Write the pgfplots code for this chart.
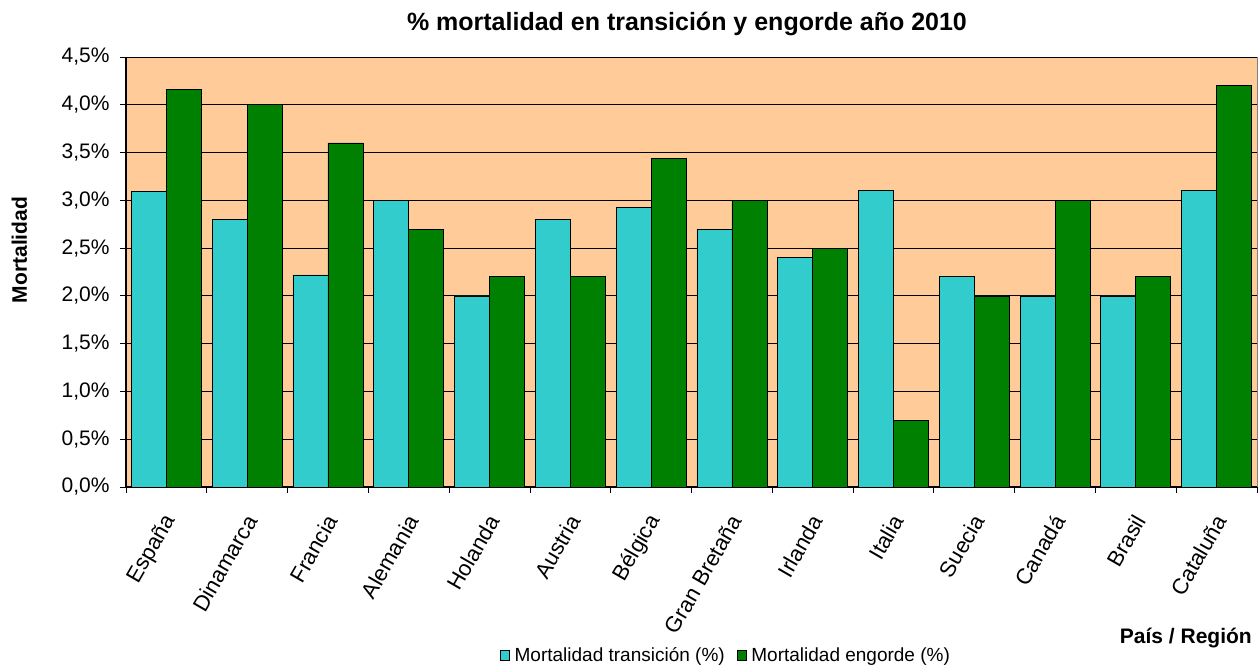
\documentclass[border=0pt]{standalone}
\usepackage{fontspec}
\setmainfont{Liberation Sans}
\usepackage{pgfplots}
\pgfplotsset{compat=1.18}
\definecolor{peach}{HTML}{FFCC99}
\definecolor{cyanbar}{HTML}{33CCCC}
\definecolor{greenbar}{HTML}{008000}
\newcommand{\fs}{\fontsize{21}{25}\selectfont}
\newcommand{\fx}{\fontsize{22}{26}\selectfont}
\newcommand{\fl}{\fontsize{19}{23}\selectfont}
\newcommand{\ft}{\fontsize{25}{30}\selectfont}
\begin{document}
\begin{tikzpicture}
\useasboundingbox (-126pt,-177pt) rectangle (1132pt,487pt);
\begin{axis}[
  scale only axis, width=1131pt, height=430pt,
  ybar=0pt, bar width=35pt,
  xmin=-0.5, xmax=13.5, ymin=0, ymax=4.5,
  axis background/.style={fill=peach, draw=gray},
  axis x line*=bottom, axis y line*=left,
  axis line style={black, line width=1.2pt},
  ytick={0,0.5,1,1.5,2,2.5,3,3.5,4,4.5},
  yticklabels={{0,0\%},{0,5\%},{1,0\%},{1,5\%},{2,0\%},{2,5\%},{3,0\%},{3,5\%},{4,0\%},{4,5\%}},
  ymajorgrids, major grid style={black, line width=0.8pt},
  xtick={0,...,13},
  xticklabels={España,Dinamarca,Francia,Alemania,Holanda,Austria,Bélgica,Gran Bretaña,Irlanda,Italia,Suecia,Canadá,Brasil,Cataluña},
  minor xtick={-0.5,0.5,...,13.5},
  tick align=outside,
  x tick style={draw=none},
  minor x tick style={draw=black, line width=0.8pt},
  minor tick length=6pt,
  y tick style={black, line width=0.8pt},
  major tick length=6pt,
  xmajorgrids=false,
  yticklabel style={font=\fs, xshift=-7pt},
  xticklabel style={font=\fx, xshift=6pt, yshift=-21pt, rotate=60, anchor=east},
  ylabel={\textbf{Mortalidad}},
  ylabel style={font=\fs, at={(axis description cs:-0.0942,0.551)}, anchor=center},
  title={\textbf{\% mortalidad en transición y engorde año 2010}},
  title style={font=\ft, at={(axis description cs:0.496,1.063)}, anchor=center},
  legend style={at={(axis description cs:0.5305,-0.391)}, anchor=center, draw=none, fill=none, legend columns=2, font=\fl, /tikz/every odd column/.append style={column sep=3pt}, /tikz/every even column/.append style={column sep=10pt}},
  legend image code/.code={\draw[#1, line width=0.6pt] (0pt,-5pt) rectangle (9pt,5pt);},
  clip=false,
]
\addplot[draw=black, line width=0.7pt, fill=cyanbar] coordinates {
(0,3.09) (1,2.8) (2,2.22) (3,3.0) (4,2.0) (5,2.8) (6,2.93) (7,2.7) (8,2.4) (9,3.1) (10,2.2) (11,2.0) (12,2.0) (13,3.1)};
\addplot[draw=black, line width=0.7pt, fill=greenbar] coordinates {
(0,4.16) (1,4.0) (2,3.6) (3,2.7) (4,2.2) (5,2.2) (6,3.44) (7,3.0) (8,2.5) (9,0.7) (10,2.0) (11,3.0) (12,2.2) (13,4.2)};
\legend{Mortalidad transición (\%), Mortalidad engorde (\%)}
\node[font=\fs, anchor=east, inner xsep=0pt] at (axis description cs:0.9956,-0.351) {\textbf{País / Región}};
\end{axis}
\end{tikzpicture}
\end{document}
